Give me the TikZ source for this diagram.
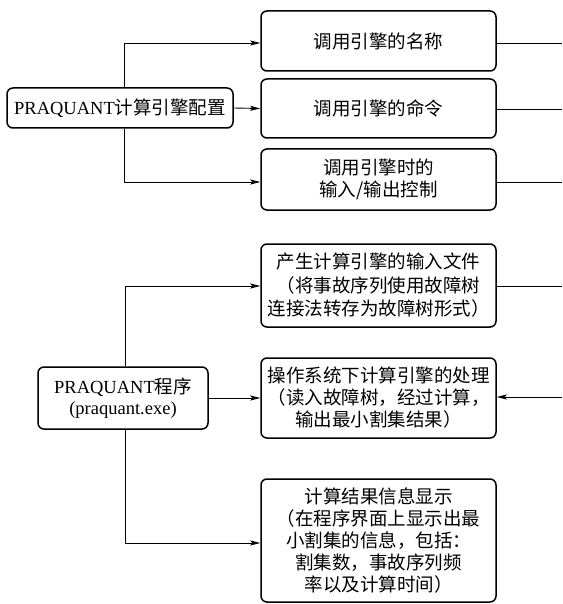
\documentclass[tikz,border=0pt]{standalone}
\usepackage{fontspec}
\setmainfont{Noto Sans CJK SC}
\newfontfamily\lat{Liberation Serif}
\usetikzlibrary{arrows.meta}
\begin{document}
\begin{tikzpicture}[x=1pt,y=-1pt,
  box/.style={draw, line width=1.5pt, rounded corners=6pt, align=center,
    inner sep=0pt, font=\fontsize{18.5}{22}\selectfont},
  rbox/.style={box, minimum width=235pt},
  conn/.style={line width=0.9pt},
  arr/.style={conn, -{Stealth[length=10pt,width=5pt,inset=2pt]}}]
\useasboundingbox (0,0) rectangle (562,604);
% top group
\node[box, minimum width=226pt, minimum height=40pt] (cfg) at (120,108) {{\lat PRAQUANT}计算引擎配置};
\node[rbox, minimum height=60pt] (b1) at (378.5,41) {调用引擎的名称};
\node[rbox, minimum height=59pt] (b2) at (378.5,108.5) {调用引擎的命令};
\node[rbox, minimum height=61pt] (b3) at (378.5,179.5) {调用引擎时的\\输入/输出控制};
\coordinate (sp1) at (124,0);
\coordinate (r1) at (562,43);
\coordinate (r2) at (562,109);
\coordinate (r3) at (562,182);
\draw[arr] (cfg.north -| sp1) |- (b1.west |- r1);
\draw[arr] (cfg.east) -- (b2.west);
\draw[arr] (cfg.south -| sp1) |- (b3.west |- r3);
\draw[conn] (b1.east |- r1) -- (r1);
\draw[conn] (b2.east |- r2) -- (r2);
\draw[conn] (b3.east |- r3) -- (r3);
% bottom group
\node[box, minimum width=170pt, minimum height=62pt, font=\fontsize{18.5}{21}\selectfont] (prog) at (123,398) {{\lat PRAQUANT}程序\\{\lat (praquant.exe)}};
\node[rbox, minimum height=83pt, font=\fontsize{18.5}{23.5}\selectfont] (b4) at (378.5,285.5) {产生计算引擎的输入文件\\（将事故序列使用故障树\\连接法转存为故障树形式）};
\node[rbox, minimum height=80pt] (b5) at (378.5,398) {操作系统下计算引擎的处理\\（读入故障树，经过计算，\\输出最小割集结果）};
\node[rbox, minimum height=123pt] (b6) at (378.5,540.5) {计算结果信息显示\\（在程序界面上显示出最\\小割集的信息，包括：\\割集数，事故序列频\\率以及计算时间）};
\coordinate (sp2) at (125,0);
\coordinate (r4) at (562,286);
\coordinate (r5) at (562,397);
\coordinate (l6) at (0,543);
\draw[arr] (prog.north -| sp2) |- (b4.west |- r4);
\draw[arr] (prog.east) -- (b5.west);
\draw[arr] (prog.south -| sp2) |- (b6.west |- l6);
\draw[conn] (b4.east |- r4) -- (r4);
\draw[arr] (r5) -- (b5.east |- r5);
\end{tikzpicture}
\end{document}
